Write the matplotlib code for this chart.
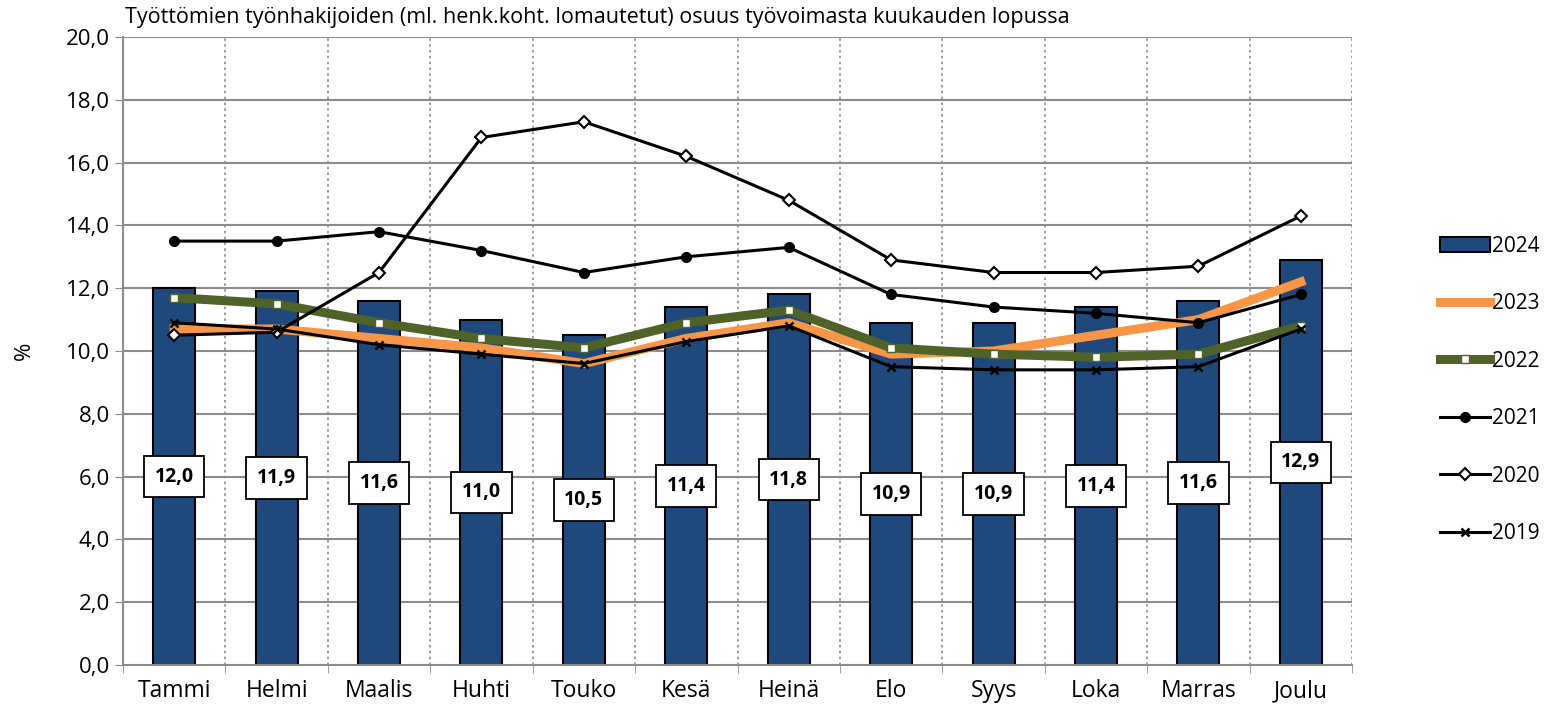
import numpy as np
import matplotlib.pyplot as plt

plt.rcParams['font.family'] = ['Open Sans', 'DejaVu Sans']

months = ["Tammi", "Helmi", "Maalis", "Huhti", "Touko", "Kesä", "Heinä", "Elo", "Syys", "Loka", "Marras", "Joulu"]
v2024 = [12.0, 11.9, 11.6, 11.0, 10.5, 11.4, 11.8, 10.9, 10.9, 11.4, 11.6, 12.9]
v2023 = [10.7, 10.7, 10.4, 10.1, 9.6, 10.4, 10.9, 9.9, 10.0, 10.5, 11.0, 12.2]
v2022 = [11.7, 11.5, 10.9, 10.4, 10.1, 10.9, 11.3, 10.1, 9.9, 9.8, 9.9, 10.8]
v2021 = [13.5, 13.5, 13.8, 13.2, 12.5, 13.0, 13.3, 11.8, 11.4, 11.2, 10.9, 11.8]
v2020 = [10.5, 10.6, 12.5, 16.8, 17.3, 16.2, 14.8, 12.9, 12.5, 12.5, 12.7, 14.3]
v2019 = [10.9, 10.7, 10.2, 9.9, 9.6, 10.3, 10.8, 9.5, 9.4, 9.4, 9.5, 10.7]

x = np.arange(len(months))

fig = plt.figure(figsize=(15.52, 7.17), dpi=100)
ax = fig.add_axes([123/1552, 1-665/717, (1352-123)/1552, (665-37)/717])

# grid
for yv in np.arange(2, 20.1, 2):
    ax.axhline(yv, color='#8c8c8c', lw=1.5, zorder=0)
for xv in np.arange(0.5, 11.6, 1):
    ax.axvline(xv, color='#8c8c8c', lw=1.2, ls=(0, (1.5, 2)), zorder=0)

b = ax.bar(x, v2024, width=0.41, color='#1f497d', edgecolor='black', lw=1.5, label='2024', zorder=2)
l23, = ax.plot(x, v2023, color='#f79646', lw=6.5, label='2023', zorder=3)
l22, = ax.plot(x, v2022, color='#4f6228', lw=6.5, marker='s', ms=6, mfc='white', mec='#4f6228', mew=1, label='2022', zorder=4)
l21, = ax.plot(x, v2021, color='black', lw=2.2, marker='o', ms=7, label='2021', zorder=5)
l20, = ax.plot(x, v2020, color='black', lw=2.2, marker='D', ms=6.5, mfc='white', mec='black', mew=1.5, label='2020', zorder=5)
l19, = ax.plot(x, v2019, color='black', lw=2.2, marker='x', ms=6, mew=1.8, label='2019', zorder=5)

for i, v in enumerate(v2024):
    ax.text(x[i], v/2, f"{v:.1f}".replace('.', ','), ha='center', va='center', fontsize=14, fontweight='bold',
            bbox=dict(boxstyle='square,pad=0.55', fc='white', ec='black', lw=1.3), zorder=6)

ax.set_xlim(-0.5, 11.5)
ax.set_ylim(0, 20)
ax.set_yticks(np.arange(0, 20.1, 2))
ax.set_yticklabels([f"{t:.1f}".replace('.', ',') for t in np.arange(0, 20.1, 2)], fontsize=16)
ax.set_xticks(x)
ax.set_xticklabels(months, fontsize=16.5)
ax.set_xticks(np.arange(-0.5, 11.6, 1), minor=True)
ax.tick_params(axis='x', which='major', length=0, pad=10)
ax.tick_params(axis='x', which='minor', length=6, color='#8c8c8c')
ax.tick_params(axis='y', length=6, color='#8c8c8c')
for s in ['top', 'right']:
    ax.spines[s].set_visible(False)
ax.spines['left'].set_color('#8c8c8c')
ax.spines['bottom'].set_color('#8c8c8c')
ax.spines['left'].set_linewidth(1.5)
ax.spines['bottom'].set_linewidth(1.5)

ax.set_ylabel('%', fontsize=16, labelpad=22)
fig.text(125/1552, 1-18/717, "Työttömien työnhakijoiden (ml. henk.koht. lomautetut) osuus työvoimasta kuukauden lopussa",
         fontsize=15.5, va='center', ha='left')

fig.legend([b, l23, l22, l21, l20, l19], ['2024', '2023', '2022', '2021', '2020', '2019'],
           loc='center left', bbox_to_anchor=(1425/1552, 1-390/717), frameon=False, fontsize=15,
           labelspacing=1.75, handlelength=2.4, handletextpad=0.1, borderpad=0.2)

fig.savefig('out.png', dpi=100)
